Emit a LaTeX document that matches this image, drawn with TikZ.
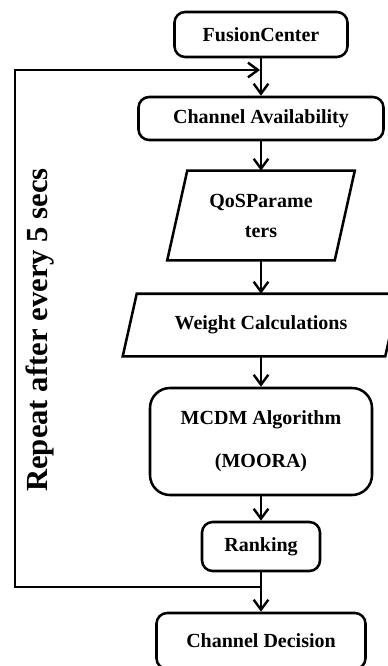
\documentclass[tikz,border=0pt]{standalone}
\usepackage{fontspec}
\setmainfont{Liberation Serif}
\usetikzlibrary{arrows.meta}

\tikzset{
    box/.style={draw, rounded corners=8pt, inner sep=0pt, align=center, font=\fontsize{15}{18}\selectfont\bfseries},
    iobox/.style={inner sep=0pt, align=center, font=\fontsize{15}{18}\selectfont\bfseries},
    flow/.style={-{Straight Barb[length=7.5pt, width=11pt, line width=1.8pt]}}
}

% slanted outline round a node: #1 name, #2 half slant
\newcommand{\slantbox}[2]{%
    \draw ([xshift=#2]#1.north west) -- ([xshift=#2]#1.north east)
        -- ([xshift=-#2]#1.south east) -- ([xshift=-#2]#1.south west) -- cycle;}

\begin{document}
\begin{tikzpicture}[x=0.75pt, y=-0.75pt, line width=1.9pt]
        \useasboundingbox (0,0) rectangle (387,666);

        % Steps
        \node[box, minimum width=129.75pt, minimum height=33.75pt] (fusion) at (261, 34.5) {FusionCenter};
        \node[box, minimum width=183.75pt, minimum height=32.25pt] (avail) at (261, 118.5) {Channel Availability};
        \node[iobox, minimum width=123.75pt, minimum height=65.25pt, font=\fontsize{15}{22.5}\selectfont\bfseries] (qos) at (261, 215.5) {QoSParame\\ters};
        \slantbox{qos}{7.5pt}
        \node[iobox, minimum width=195pt, minimum height=45pt] (weight) at (261, 325) {Weight Calculations};
        \slantbox{weight}{5.25pt}
        \node[box, rounded corners=15pt, minimum width=166.5pt, minimum height=80.25pt, font=\fontsize{15}{32}\selectfont\bfseries] (mcdm) at (261, 441.5) {MCDM Algorithm\\(MOORA)};
        \node[box, minimum width=88.5pt, minimum height=36.75pt] (rank) at (261, 546.5) {Ranking};
        \node[box, minimum width=156.75pt, minimum height=42pt] (decision) at (261, 641) {Channel Decision};

        % Arrows
        \draw[flow] (fusion) -- (avail);
        \draw[flow] (avail) -- (qos);
        \draw[flow] (qos) -- (weight);
        \draw[flow] (weight) -- (mcdm);
        \draw[flow] (mcdm) -- (rank);
        \draw[flow] (rank) -- (decision);

        % Feedback loop
        \coordinate (loopout) at (261, 587);
        \coordinate (loopin) at (260, 70);
        \draw[flow] (loopout) -- (15, 587) -- (15, 70) -- (loopin);
        \node[rotate=90, font=\fontsize{23}{27}\selectfont\bfseries] (repeat) at (40, 330) {Repeat after every 5 secs};
    \end{tikzpicture}
\end{document}
